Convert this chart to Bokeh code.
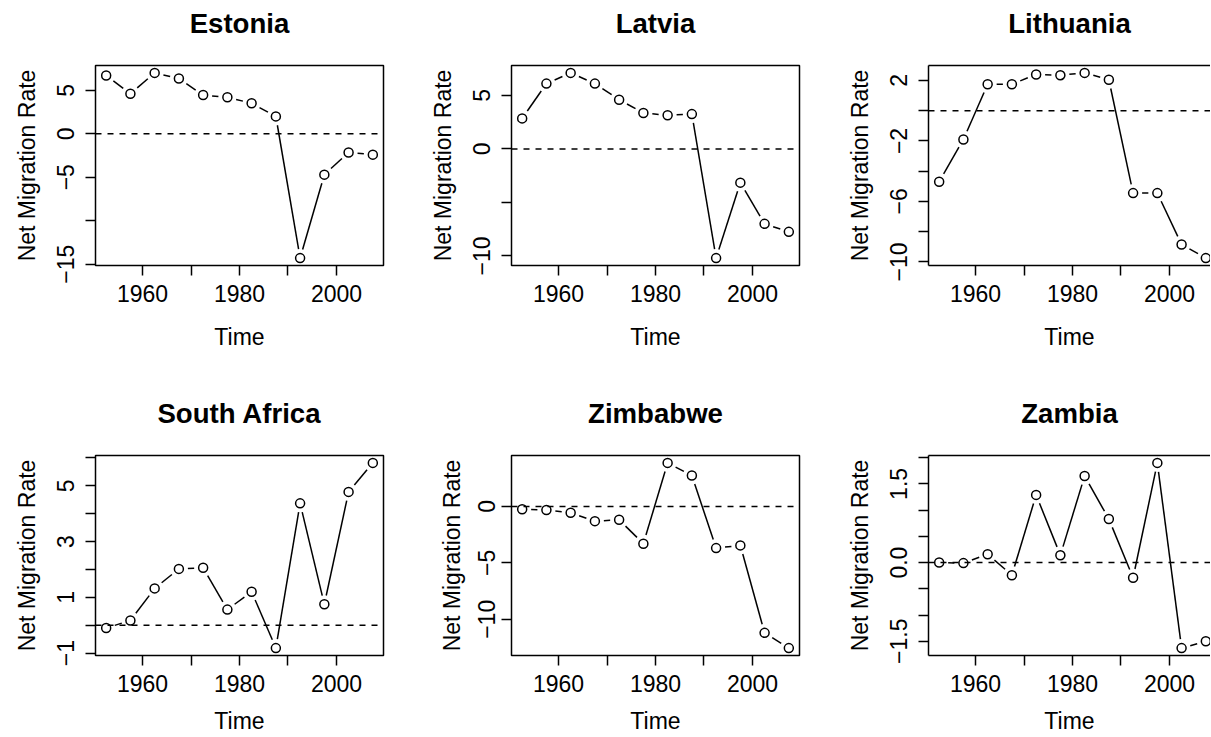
import math
from bokeh.plotting import figure
from bokeh.layouts import gridplot
from bokeh.models import Range1d, FixedTicker, Span, LinearAxis
from bokeh.embed import file_html
from bokeh.resources import INLINE

# ---------------- data ----------------
years = [1952.5, 1957.5, 1962.5, 1967.5, 1972.5, 1977.5,
         1982.5, 1987.5, 1992.5, 1997.5, 2002.5, 2007.5]

estonia = [6.7, 4.6, 7.0, 6.35, 4.45, 4.2, 3.5, 2.0, -14.3, -4.7, -2.15, -2.4]
latvia = [2.85, 6.1, 7.1, 6.1, 4.6, 3.35, 3.15, 3.25, -10.2, -3.15, -7.0, -7.75]
lithuania = [-4.7, -1.9, 1.75, 1.75, 2.4, 2.35, 2.5, 2.05, -5.45, -5.45, -8.85, -9.75]
south_africa = [-0.1, 0.17, 1.32, 2.02, 2.06, 0.56, 1.2, -0.82, 4.37, 0.75, 4.78, 5.82]
zimbabwe = [-0.24, -0.32, -0.56, -1.3, -1.18, -3.3, 3.86, 2.74, -3.69, -3.45, -11.2, -12.55]
zambia = [0.0, -0.01, 0.16, -0.24, 1.29, 0.14, 1.65, 0.83, -0.29, 1.9, -1.63, -1.5]

x_ticks = [1960, 1970, 1980, 1990, 2000]
x_tick_labels = ["1960", " ", "1980", " ", "2000"]

estonia_ticks = [-15, -10, -5, 0, 5]
estonia_labels = ["\u221215", " ", "\u22125", "0", "5"]
latvia_ticks = [-10, -5, 0, 5]
latvia_labels = ["\u221210", " ", "0", "5"]
lithuania_ticks = [-10, -8, -6, -4, -2, 0, 2]
lithuania_labels = ["\u221210", " ", "\u22126", " ", "\u22122", " ", "2"]
south_africa_ticks = [-1, 0, 1, 2, 3, 4, 5, 6]
south_africa_labels = ["\u22121", " ", "1", " ", "3", " ", "5", " "]
zimbabwe_ticks = [-10, -5, 0]
zimbabwe_labels = ["\u221210", "\u22125", "0"]
zambia_ticks = [-1.5, -1.0, -0.5, 0.0, 0.5, 1.0, 1.5, 2.0]
zambia_labels = ["\u22121.5", " ", " ", "0.0", " ", " ", "1.5", " "]

titles = ["Estonia", "Latvia", "Lithuania", "South Africa", "Zimbabwe", "Zambia"]
x_title = "Time"
y_title = "Net Migration Rate"

# ---------------- layout ----------------
FONT = "Liberation Sans"
COL_W = [416, 416, 378]
B_LEFT = [95, 95, 96]
F_W = [288, 288, 282]
ROW_H = [390, 347]
B_TOP = 65
F_H = 200
LW = 1.5
GAP = 9.0

x_min, x_max = min(years), max(years)
x_pad = 0.04 * (x_max - x_min)
x_start, x_end = x_min - x_pad, x_max + x_pad
fx = F_W[0] / (x_end - x_start)


def style_axis(ax):
    ax.major_tick_out = 10
    ax.major_tick_in = 0
    ax.minor_tick_out = 0
    ax.minor_tick_in = 0
    ax.major_tick_line_color = "black"
    ax.major_tick_line_width = LW
    ax.major_label_text_font = FONT
    ax.major_label_text_font_size = "23px"
    ax.major_label_text_color = "black"
    ax.axis_label_text_font = FONT
    ax.axis_label_text_font_size = "23px"
    ax.axis_label_text_font_style = "normal"
    ax.axis_label_text_color = "black"


def panel(name, values, yticks, ylabels, r, c):
    y_min, y_max = min(values), max(values)
    y_pad = 0.04 * (y_max - y_min)
    y_start, y_end = y_min - y_pad, y_max + y_pad
    fy = F_H / (y_end - y_start)
    xe = x_start + F_W[c] / fx

    p = figure(width=COL_W[c], height=ROW_H[r],
               x_range=Range1d(x_start, xe), y_range=Range1d(y_start, y_end),
               output_backend="svg", toolbar_location=None,
               min_border_left=B_LEFT[c], min_border_right=COL_W[c] - B_LEFT[c] - F_W[c],
               min_border_top=B_TOP, min_border_bottom=ROW_H[r] - B_TOP - F_H,
               x_axis_label=x_title, y_axis_label=y_title)
    p.grid.visible = False
    p.background_fill_color = "white"
    p.border_fill_color = "white"

    last = (c == 2)
    if last:
        p.outline_line_color = None
    else:
        p.outline_line_color = "black"
        p.outline_line_width = LW

    xa = p.xaxis[0]
    xa.ticker = FixedTicker(ticks=x_ticks, minor_ticks=[])
    xa.major_label_overrides = dict(zip(x_ticks, x_tick_labels))
    style_axis(xa)
    xa.major_label_standoff = 5
    xa.axis_label_standoff = 14 if r == 0 else 8
    xa.axis_line_color = "black" if last else None
    xa.axis_line_width = LW

    ya = p.yaxis[0]
    ya.ticker = FixedTicker(ticks=yticks, minor_ticks=[])
    ya.major_label_overrides = dict(zip(yticks, ylabels))
    style_axis(ya)
    ya.major_label_orientation = "vertical"
    ya.major_label_standoff = 6
    ya.axis_label_standoff = 11
    ya.axis_line_color = "black" if last else None
    ya.axis_line_width = LW

    # top axis: carries the panel title (and the top border for the cut-off panel)
    top = LinearAxis(ticker=FixedTicker(ticks=[], minor_ticks=[]), axis_label=name)
    top.major_tick_out = 0
    top.major_tick_in = 0
    top.minor_tick_out = 0
    top.minor_tick_in = 0
    top.major_label_standoff = 0
    top.axis_label_standoff = 27
    top.axis_label_text_font = FONT
    top.axis_label_text_font_size = "27.6px"
    top.axis_label_text_font_style = "bold"
    top.axis_label_text_color = "black"
    top.axis_line_color = "black" if last else None
    top.axis_line_width = LW
    p.add_layout(top, "above")

    # R type="b": segments shortened around the points
    x0s, y0s, x1s, y1s = [], [], [], []
    for i in range(len(years) - 1):
        dx = years[i + 1] - years[i]
        dy = values[i + 1] - values[i]
        d = math.hypot(dx * fx, dy * fy)
        if d > 2 * GAP:
            t = GAP / d
            x0s.append(years[i] + t * dx)
            y0s.append(values[i] + t * dy)
            x1s.append(years[i + 1] - t * dx)
            y1s.append(values[i + 1] - t * dy)
    p.segment(x0s, y0s, x1s, y1s, line_color="black", line_width=LW)

    p.add_layout(Span(location=0, dimension="width", line_color="black",
                      line_dash="6 6", line_width=LW))

    p.scatter(years, values, marker="circle", size=9, fill_color=None,
              line_color="black", line_width=LW)
    return p


p1 = panel(titles[0], estonia, estonia_ticks, estonia_labels, 0, 0)
p2 = panel(titles[1], latvia, latvia_ticks, latvia_labels, 0, 1)
p3 = panel(titles[2], lithuania, lithuania_ticks, lithuania_labels, 0, 2)
p4 = panel(titles[3], south_africa, south_africa_ticks, south_africa_labels, 1, 0)
p5 = panel(titles[4], zimbabwe, zimbabwe_ticks, zimbabwe_labels, 1, 1)
p6 = panel(titles[5], zambia, zambia_ticks, zambia_labels, 1, 2)

grid = gridplot([[p1, p2, p3], [p4, p5, p6]], toolbar_location=None)

open("out.html", "w").write(file_html(grid, INLINE))
